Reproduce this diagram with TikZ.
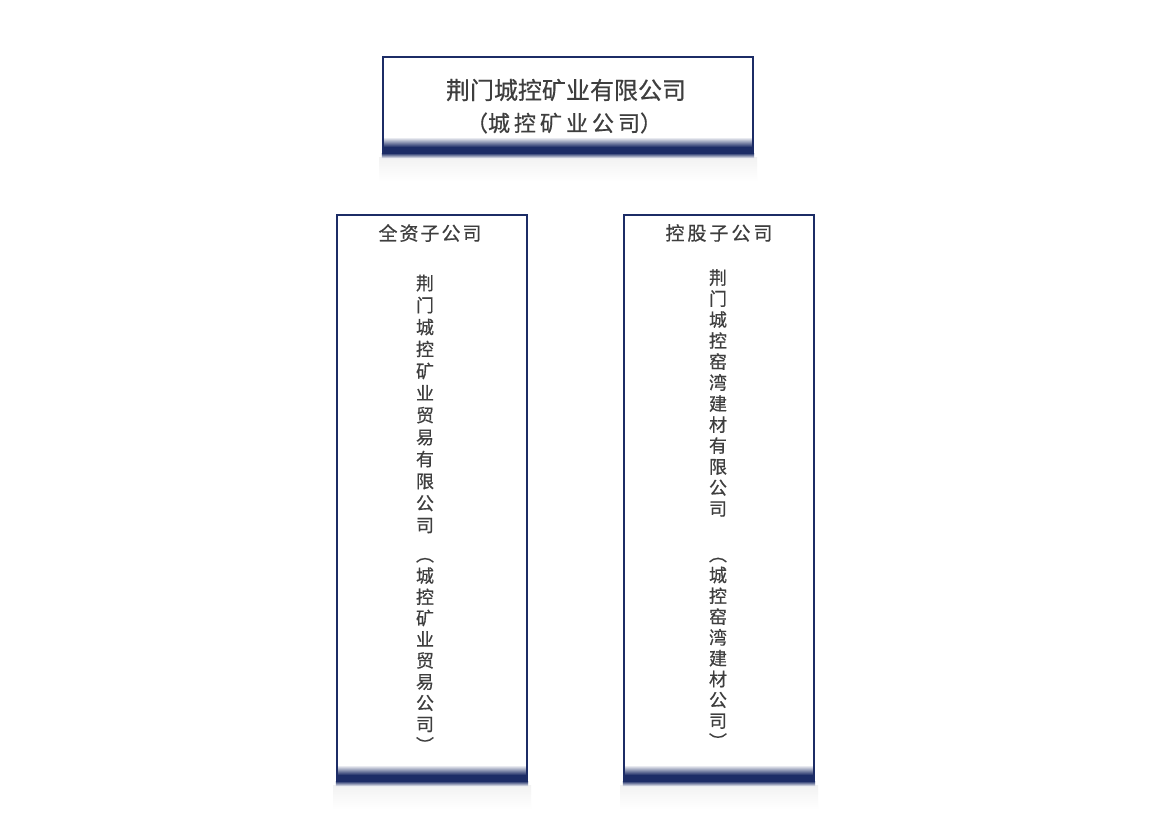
\documentclass[tikz,border=0pt]{standalone}
\usepackage{fontspec}
\setmainfont{Noto Sans CJK SC}[FakeBold=0.5]
\definecolor{navy}{RGB}{28,44,102}
\definecolor{inkgray}{RGB}{62,62,62}
\begin{document}
\begin{tikzpicture}[x=1pt,y=-1pt,
  orgbox/.style={draw=navy, line width=2.2pt},
  cjk/.style={text=inkgray, inner sep=0pt},
  column/.style={cjk, align=center, font=\fontsize{18}{#1}\selectfont}]
\useasboundingbox[fill=white] (0,0) rectangle (1162,819);
\foreach \xa/\ya/\xb/\yb in {383/57/753/154, 337/215/527/782, 624/215/814/782}{
  \shade[top color=black!5, bottom color=white] (\xa-4,\yb+3) rectangle (\xb+4,\yb+27);
  \fill[white] (\xa,\ya) rectangle (\xb,\yb);
  \shade[top color=white, bottom color=navy] (\xa,\yb-17) rectangle (\xb,\yb-7);
  \fill[navy] (\xa,\yb-7.2) rectangle (\xb,\yb-1);
  \shade[top color=navy, bottom color=navy!8] (\xa-1.1,\yb-1) rectangle (\xb+1.1,\yb+4);
  \draw[orgbox] (\xa,\yb) -- (\xa,\ya) -- (\xb,\ya) -- (\xb,\yb);
}
\node[cjk, font=\fontsize{24}{33}\selectfont] (title) at (566,90) {荆门城控矿业有限公司};
\node[cjk, font=\fontsize{22}{33}\selectfont] (short) at (564,123)
  {（城\hspace{4pt}控\hspace{4pt}矿\hspace{4pt}业\hspace{4pt}公\hspace{4pt}司）};
\node[cjk, font=\fontsize{19}{22}\selectfont] (whole) at (430,233)
  {全\hspace{2pt}资\hspace{2pt}子\hspace{2pt}公\hspace{2pt}司};
\node[cjk, font=\fontsize{19}{22}\selectfont] (held) at (719,233)
  {控\hspace{3pt}股\hspace{3pt}子\hspace{3pt}公\hspace{3pt}司};
\node[column=22] (tradename) at (425,404)
  {荆\\门\\城\\控\\矿\\业\\贸\\易\\有\\限\\公\\司};
\node[column=21.2] (tradeshort) at (425,655)
  {︵\\城\\控\\矿\\业\\贸\\易\\公\\司\\︶};
\node[column=21] (buildname) at (718,393)
  {荆\\门\\城\\控\\窑\\湾\\建\\材\\有\\限\\公\\司};
\node[column=20.8] (buildshort) at (718,653)
  {︵\\城\\控\\窑\\湾\\建\\材\\公\\司\\︶};
\end{tikzpicture}
\end{document}
